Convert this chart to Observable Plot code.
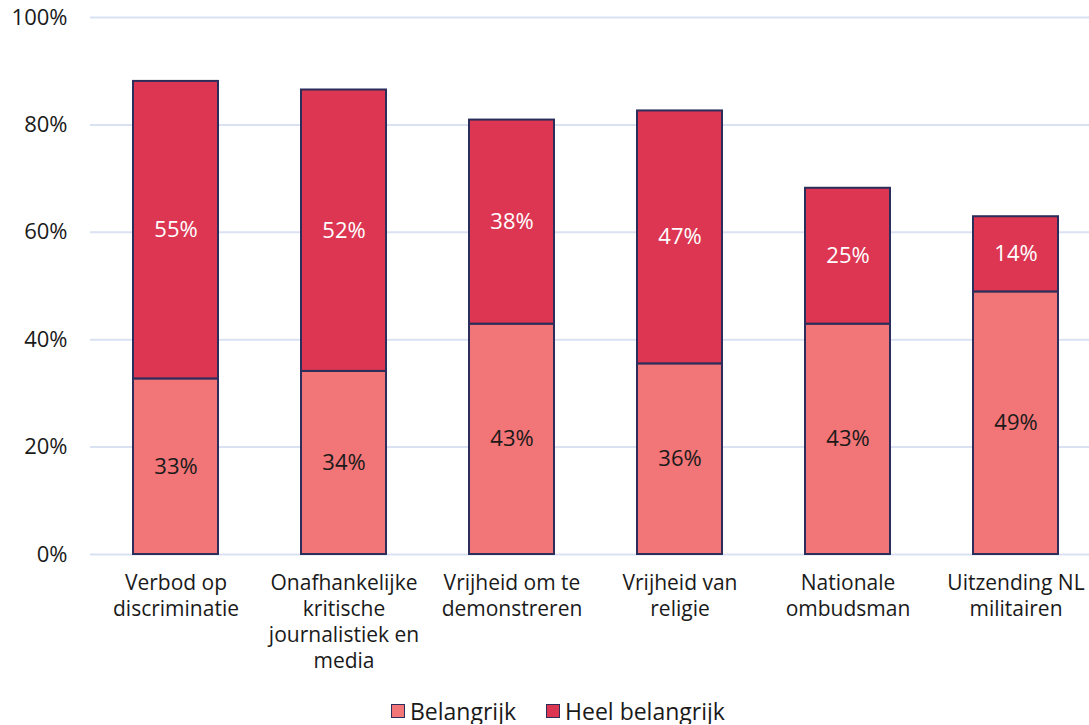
<!DOCTYPE html>
<html><head><meta charset="utf-8">
<script src="https://cdn.jsdelivr.net/npm/d3@7"></script>
<script src="https://cdn.jsdelivr.net/npm/@observablehq/plot@0.6"></script>
<style>
body{margin:0;background:#fff;overflow:hidden;font-family:"Open Sans",sans-serif;width:1089px}
#chart svg{max-width:none !important;display:block}
#legend{display:flex;align-items:center;margin-left:391px;margin-top:8px;font-size:23px;line-height:26px;color:#1a1a1a;height:26px;}
.sw{width:12px;height:12px;border:1.5px solid #2B2D5A;margin-right:5px;display:inline-block}
.item{display:flex;align-items:center;margin-right:30px}
</style></head><body>
<div id="chart"></div>
<div id="legend"></div>
<script>
const categories = ["Verbod op discriminatie","Onafhankelijke kritische journalistiek en media","Vrijheid om te demonstreren","Vrijheid van religie","Nationale ombudsman","Uitzending NL militairen"];
const categoryLines = ["Verbod op\ndiscriminatie","Onafhankelijke\nkritische\njournalistiek en\nmedia","Vrijheid om te\ndemonstreren","Vrijheid van\nreligie","Nationale\nombudsman","Uitzending NL\nmilitairen"];
const series = ["Belangrijk","Heel belangrijk"];
const belangrijk = [32.7, 34.1, 42.9, 35.5, 42.9, 48.9];
const heelBelangrijk = [55.4, 52.4, 38.0, 47.1, 25.3, 14.0];
const colors = ["#F27577","#DC3653"];
const labelColors = ["#1a1a1a","#ffffff"];
const yTicks = [0,20,40,60,80,100];

const data = [];
categories.forEach((c,i)=>{
  data.push({cat:c, series:series[0], value:belangrijk[i]});
  data.push({cat:c, series:series[1], value:heelBelangrijk[i]});
});
const lineOf = Object.fromEntries(categories.map((c,i)=>[c,categoryLines[i]]));

const plot = Plot.plot({
  width:1100, height:690,
  marginLeft:90, marginRight:0, marginTop:17, marginBottom:136,
  style:{fontFamily:"'Open Sans', sans-serif", fontSize:"20px", color:"#1a1a1a", overflow:"visible"},
  x:{domain:categories, paddingInner:0.495, paddingOuter:0.2475, label:null},
  y:{domain:[0,100], label:null},
  color:{domain:series, range:colors},
  marks:[
    Plot.ruleY(yTicks,{stroke:"#D9E1F2", strokeWidth:2}),
    Plot.barY(data,{x:"cat", y:"value", fill:"series", z:"series", order:series, stroke:"#2B2D5A", strokeWidth:2}),
    Plot.text(data, Plot.stackY({x:"cat", y:"value", z:"series", order:series, text:d=>Math.round(d.value)+"%", fill:d=>labelColors[series.indexOf(d.series)], fontSize:22})),
    Plot.axisY({ticks:yTicks, tickFormat:d=>d+"%", tickSize:0, tickPadding:23, fontSize:22, label:null}),
    Plot.axisX({tickSize:0, tickPadding:17, tickFormat:d=>lineOf[d], lineHeight:1.24, fontSize:21, label:null})
  ]
});
document.getElementById("chart").appendChild(plot);

const lg = document.getElementById("legend");
series.forEach((s,i)=>{
  const it=document.createElement("div"); it.className="item";
  const sw=document.createElement("span"); sw.className="sw"; sw.style.background=colors[i];
  it.appendChild(sw); it.appendChild(document.createTextNode(s)); lg.appendChild(it);
});
</script></body></html>
